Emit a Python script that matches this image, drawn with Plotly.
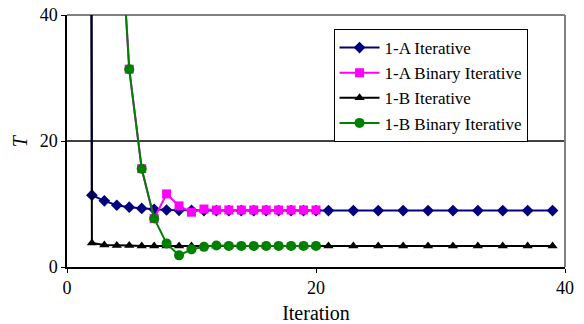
import plotly.graph_objects as go

# Data (T values; iteration 1 values lie far above the axis)
iter_a_it = list(range(1, 21)) + list(range(21, 40, 2))
t_a_it = [1000, 11.4, 10.5, 9.8, 9.5, 9.3, 9.15, 9.05, 9.0, 9.0,
          8.95, 8.95, 8.95, 8.95, 8.95, 8.95, 8.95, 8.95, 8.95, 8.95,
          8.95, 8.95, 8.95, 8.95, 8.95, 8.95, 8.95, 8.95, 8.95, 8.95]

iter_a_bin = list(range(1, 21))
t_a_bin = [900, 250, 120, 64, 31.4, 15.6, 7.7, 11.6, 9.7, 8.7,
           9.2, 9.05, 9.05, 9.05, 9.05, 9.05, 9.05, 9.05, 9.05, 9.05]

iter_b_it = list(range(1, 21)) + list(range(21, 40, 2))
t_b_it = [1100, 3.8, 3.5, 3.4, 3.4, 3.35, 3.35, 3.35, 3.35, 3.35,
          3.35, 3.35, 3.35, 3.35, 3.35, 3.35, 3.35, 3.35, 3.35, 3.35,
          3.35, 3.35, 3.35, 3.35, 3.35, 3.35, 3.35, 3.35, 3.35, 3.35]

iter_b_bin = list(range(1, 21))
t_b_bin = [900, 250, 120, 64, 31.4, 15.6, 7.7, 3.75, 1.85, 2.8,
           3.2, 3.4, 3.35, 3.35, 3.35, 3.35, 3.35, 3.35, 3.35, 3.35]

x_ticks = [0, 20, 40]
y_ticks = [0, 20, 40]

FONT = "Liberation Serif"

fig = go.Figure()
fig.add_trace(go.Scatter(x=iter_a_it, y=t_a_it, name="1-A Iterative", mode="lines+markers",
                         line=dict(color="#000080", width=2),
                         marker=dict(symbol="diamond", size=9, color="#000080")))
fig.add_trace(go.Scatter(x=iter_a_bin, y=t_a_bin, name="1-A Binary Iterative", mode="lines+markers",
                         line=dict(color="#FF00FF", width=2),
                         marker=dict(symbol="square", size=9, color="#FF00FF")))
fig.add_trace(go.Scatter(x=iter_b_it, y=t_b_it, name="1-B Iterative", mode="lines+markers",
                         line=dict(color="#000000", width=2),
                         marker=dict(symbol="triangle-up", size=9, color="#000000")))
fig.add_trace(go.Scatter(x=iter_b_bin, y=t_b_bin, name="1-B Binary Iterative", mode="lines+markers",
                         line=dict(color="#008000", width=2),
                         marker=dict(symbol="circle", size=10, color="#008000")))

# gridline at 20 only
fig.add_shape(type="line", xref="paper", x0=0, x1=1, yref="y", y0=y_ticks[1], y1=y_ticks[1],
              line=dict(color="black", width=1.5), layer="below")
# gray frame top/right
fig.add_shape(type="line", xref="paper", x0=0, x1=1, yref="paper", y0=1, y1=1,
              line=dict(color="#808080", width=2), layer="below")
fig.add_shape(type="line", xref="paper", x0=1, x1=1, yref="paper", y0=0, y1=1,
              line=dict(color="#808080", width=2), layer="below")

# y title as annotation to control its position
fig.add_annotation(text="<i>T</i>", xref="paper", yref="paper", x=-0.094, y=0.5,
                   xanchor="center", yanchor="middle", textangle=-90, showarrow=False,
                   font=dict(family=FONT, size=20, color="black"))

fig.update_layout(
    width=584, height=324,
    margin=dict(l=67, r=19, t=15, b=57, autoexpand=False),
    paper_bgcolor="white", plot_bgcolor="white",
    font=dict(family=FONT, size=18, color="black"),
    showlegend=True,
    legend=dict(x=0.73, y=0.72, xanchor="center", yanchor="middle",
                bgcolor="white", bordercolor="black", borderwidth=1,
                font=dict(family=FONT, size=17, color="black"),
                itemwidth=40, tracegroupgap=0),
    xaxis=dict(range=[0, 40], tickvals=x_ticks, showgrid=False, zeroline=False,
               showline=True, linecolor="black", linewidth=1.5,
               ticks="outside", ticklen=4, tickcolor="black", automargin=False,
               title=dict(text="Iteration", font=dict(size=20))),
    yaxis=dict(range=[0, 40], tickvals=y_ticks, showgrid=False, zeroline=False,
               showline=True, linecolor="black", linewidth=1.5,
               ticks="outside", ticklen=4, tickcolor="black", automargin=False),
)

fig.write_html("out.html", config={"displayModeBar": False},
               post_script="document.body.style.margin='0';")
